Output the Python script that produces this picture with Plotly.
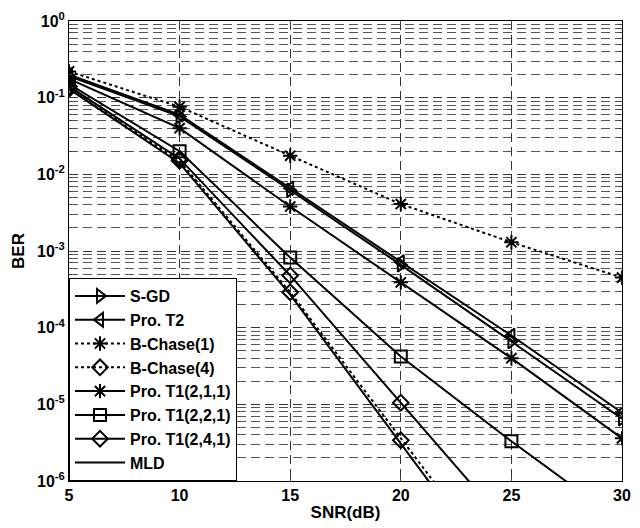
import plotly.graph_objects as go

snr = [5, 10, 15, 20, 25, 30]

sgd = [0.19, 0.057, 0.0062, 6.6e-4, 6.6e-5, 6.5e-6]
pro_t2 = [0.20, 0.060, 0.0066, 7.2e-4, 7.9e-5, 7.8e-6]
bchase1 = [0.22, 0.076, 0.0175, 0.0041, 0.0013, 4.5e-4]
bchase4 = [0.13, 0.0150, 2.9e-4, 3.4e-6, 4.5e-8, 6e-10]
t1_211 = [0.175, 0.040, 0.0038, 3.9e-4, 4.0e-5, 3.6e-6]
t1_221 = [0.15, 0.020, 8.2e-4, 4.2e-5, 3.3e-6, 2.9e-7]
t1_241 = [0.14, 0.016, 4.8e-4, 1.05e-5, 2.3e-7, 5e-9]
mld = [0.13, 0.0140, 2.7e-4, 3.1e-6, 3.5e-8, 4e-10]

y_ticks = [1, 0.1, 0.01, 1e-3, 1e-4, 1e-5, 1e-6]
y_ticktext = ["10<sup>0</sup>", "10<sup>-1</sup>", "10<sup>-2</sup>", "10<sup>-3</sup>",
              "10<sup>-4</sup>", "10<sup>-5</sup>", "10<sup>-6</sup>"]
x_ticks = [5, 10, 15, 20, 25, 30]

series = [
    ("S-GD", sgd, "solid", "triangle-right-open"),
    ("Pro. T2", pro_t2, "solid", "triangle-left-open"),
    ("B-Chase(1)", bchase1, "dot", "asterisk-open"),
    ("B-Chase(4)", bchase4, "dot", "diamond-open"),
    ("Pro. T1(2,1,1)", t1_211, "solid", "asterisk-open"),
    ("Pro. T1(2,2,1)", t1_221, "solid", "square-open"),
    ("Pro. T1(2,4,1)", t1_241, "solid", "diamond-open"),
    ("MLD", mld, "solid", None),
]

FAM = "Liberation Sans, Arial, sans-serif"

fig = go.Figure()
for i, (name, vals, dash, sym) in enumerate(series):
    if sym is None:
        fig.add_trace(go.Scatter(x=snr, y=vals, name=name, mode="lines",
                                 legendgroup=f"g{i}",
                                 line=dict(color="black", width=2, dash=dash)))
    else:
        fig.add_trace(go.Scatter(x=snr, y=vals, name=name, mode="lines+markers",
                                 legendgroup=f"g{i}",
                                 line=dict(color="black", width=2, dash=dash),
                                 marker=dict(symbol=sym, size=12, color="black",
                                             line=dict(color="black", width=2)),
                                 cliponaxis=True))

fig.update_layout(
    width=640, height=528,
    margin=dict(l=69, r=9, t=21, b=47),
    paper_bgcolor="white", plot_bgcolor="white",
    font=dict(family=FAM, size=16, color="black", weight="bold"),
    showlegend=True,
    legend=dict(x=0, y=0, xanchor="left", yanchor="bottom",
                bgcolor="white", bordercolor="black", borderwidth=1,
                font=dict(family=FAM, size=16, color="black", weight="bold"),
                tracegroupgap=0, itemwidth=50),
    xaxis=dict(range=[5, 30], tickvals=x_ticks, ticks="inside", ticklen=5,
               showline=True, linecolor="black", linewidth=1, mirror="ticks",
               showgrid=True, gridcolor="#333333", gridwidth=1, griddash="9px,5px",
               zeroline=False,
               title=dict(text="SNR(dB)", standoff=2, font=dict(family=FAM, size=17, weight="bold")),
               tickfont=dict(family=FAM, size=16, weight="bold")),
    yaxis=dict(type="log", range=[-6, 0], tickvals=y_ticks, ticktext=y_ticktext,
               ticks="inside", ticklen=5,
               showline=True, linecolor="black", linewidth=1, mirror="ticks",
               showgrid=True, gridcolor="#333333", gridwidth=1, griddash="9px,5px",
               minor=dict(showgrid=True, gridcolor="#555555", gridwidth=1, griddash="9px,5px",
                          ticks="inside", ticklen=3, dtick="D1"),
               zeroline=False,
               title=dict(text="BER", standoff=8, font=dict(family=FAM, size=17, weight="bold")),
               tickfont=dict(family=FAM, size=16, weight="bold")),
)

fig.write_html("out.html")
